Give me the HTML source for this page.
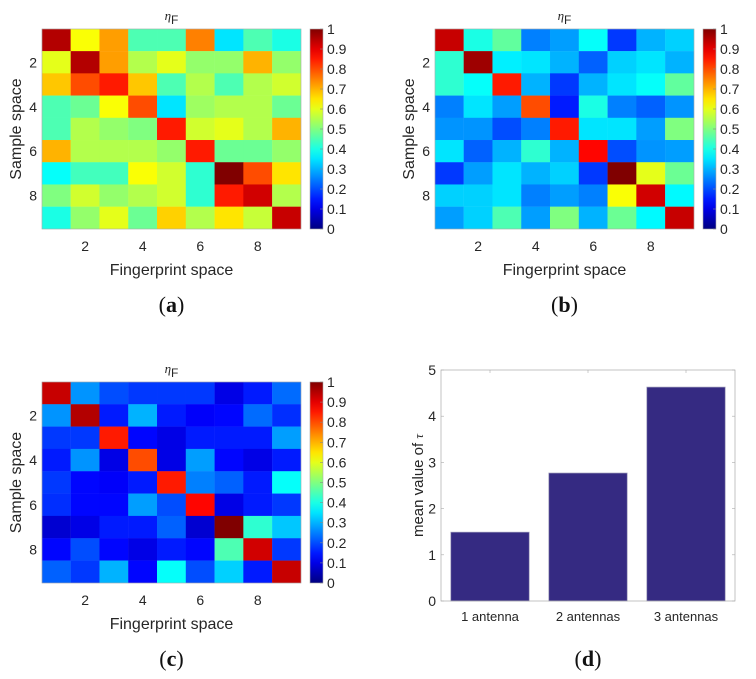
<!DOCTYPE html>
<html><head><meta charset="utf-8">
<style>
body{margin:0;background:#fff;}
svg{display:block;font-family:"Liberation Sans",sans-serif;}
</style></head>
<body>
<svg id="fig" width="756" height="679" viewBox="0 0 756 679" xmlns="http://www.w3.org/2000/svg"></svg>
<script>
const heatA = [
[0.95,0.62,0.72,0.45,0.45,0.75,0.35,0.45,0.40],
[0.60,0.95,0.72,0.55,0.60,0.52,0.52,0.70,0.52],
[0.68,0.80,0.85,0.68,0.45,0.55,0.45,0.55,0.58],
[0.45,0.48,0.62,0.80,0.35,0.53,0.55,0.55,0.48],
[0.45,0.55,0.52,0.50,0.85,0.58,0.60,0.55,0.70],
[0.70,0.55,0.55,0.55,0.52,0.85,0.48,0.48,0.52],
[0.38,0.44,0.44,0.62,0.58,0.42,1.00,0.80,0.65],
[0.50,0.58,0.52,0.55,0.58,0.42,0.85,0.92,0.55],
[0.40,0.52,0.60,0.48,0.67,0.55,0.65,0.57,0.93]];
const heatB = [
[0.93,0.40,0.47,0.25,0.28,0.38,0.18,0.30,0.33],
[0.42,0.97,0.36,0.35,0.30,0.22,0.33,0.35,0.30],
[0.42,0.38,0.85,0.30,0.18,0.30,0.35,0.38,0.47],
[0.25,0.35,0.28,0.80,0.15,0.40,0.25,0.22,0.27],
[0.27,0.27,0.20,0.25,0.85,0.35,0.35,0.28,0.50],
[0.35,0.22,0.30,0.42,0.30,0.87,0.20,0.27,0.28],
[0.18,0.28,0.35,0.30,0.33,0.18,1.00,0.60,0.48],
[0.33,0.33,0.35,0.25,0.28,0.25,0.62,0.92,0.37],
[0.28,0.33,0.45,0.28,0.50,0.30,0.48,0.37,0.93]];
const heatC = [
[0.93,0.27,0.20,0.18,0.18,0.18,0.10,0.15,0.23],
[0.27,0.95,0.15,0.30,0.15,0.12,0.13,0.23,0.17],
[0.18,0.18,0.85,0.13,0.10,0.15,0.15,0.15,0.28],
[0.15,0.27,0.10,0.80,0.10,0.28,0.13,0.10,0.15],
[0.18,0.13,0.12,0.15,0.85,0.25,0.22,0.15,0.38],
[0.17,0.13,0.13,0.28,0.20,0.87,0.10,0.15,0.18],
[0.08,0.10,0.15,0.15,0.22,0.08,1.00,0.42,0.32],
[0.13,0.20,0.13,0.10,0.15,0.13,0.45,0.92,0.18],
[0.22,0.18,0.30,0.13,0.38,0.20,0.33,0.15,0.93]];
const axisTicks = [2,4,6,8];
const cbarTicks = ["0","0.1","0.2","0.3","0.4","0.5","0.6","0.7","0.8","0.9","1"];
const barCategories = ["1 antenna","2 antennas","3 antennas"];
const barValues = [1.49,2.77,4.63];
const barYTicks = [0,1,2,3,4,5];

const NS="http://www.w3.org/2000/svg";
const svg=document.getElementById('fig');
function mk(tag,attrs,parent,text){const e=document.createElementNS(NS,tag);for(const k in attrs)e.setAttribute(k,attrs[k]);if(text!==undefined)e.textContent=text;(parent||svg).appendChild(e);return e;}
function cl(x){return Math.max(0,Math.min(1,x));}
function jet(v){const r=cl(1.5-Math.abs(4*v-3)),g=cl(1.5-Math.abs(4*v-2)),b=cl(1.5-Math.abs(4*v-1));return `rgb(${Math.round(r*255)},${Math.round(g*255)},${Math.round(b*255)})`;}
const TXT='#262626';

function heatmap(data,x0,y0,w,h,cbx,name,letter,letterY){
  const g=mk('g',{});
  
  
  const n=data.length, cw=w/n, ch=h/n;
  const xl0=c=>x0+(c-1)*cw, yt0=r=>y0+(r-1)*ch;
  data.forEach((row,ri)=>row.forEach((v,ci)=>{
    const rc=mk('rect',{x:xl0(ci+1)-0.1,y:yt0(ri+1)-0.1,width:cw+0.2,height:ch+0.2,fill:jet(v)},g);
    
    
  }));
  mk('rect',{x:x0,y:y0,width:w,height:h,fill:'none',stroke:'#aaa','stroke-width':0.6},g);
  axisTicks.forEach(t=>{
    const tx=mk('text',{x:x0+(t-0.5)*cw,y:y0+h+22,'text-anchor':'middle','font-size':14,fill:TXT},g,String(t));
    
    
    const ty=mk('text',{x:x0-5,y:y0+(t-0.5)*ch+5,'text-anchor':'end','font-size':14,fill:TXT},g,String(t));
    
    
  });
  const xl=mk('text',{x:x0+w/2,y:y0+h+46,'text-anchor':'middle','font-size':16,fill:TXT},g,'Fingerprint space');
  
  
  const yl=mk('text',{x:0,y:0,'text-anchor':'middle','font-size':16,fill:TXT,transform:`translate(${x0-21},${y0+h/2}) rotate(-90)`},g,'Sample space');
  
  
  const tt=mk('text',{x:x0+w/2,y:y0-9,'text-anchor':'middle','font-size':14,fill:TXT},g);
  
  
  mk('tspan',{'font-family':'Liberation Serif','font-style':'italic','font-size':13},tt,'η');
  mk('tspan',{dy:4,'font-size':12},tt,'F');
  const cb=mk('g',{},g);
  
  
  const defsId='grad'+name;
  const defs=mk('defs',{},cb);
  const lg=mk('linearGradient',{id:defsId,x1:0,y1:1,x2:0,y2:0},defs);
  for(let i=0;i<=20;i++){mk('stop',{offset:i/20,'stop-color':jet(i/20)},lg);}
  mk('rect',{x:cbx,y:y0,width:13,height:h,fill:`url(#${defsId})`,stroke:'#aaa','stroke-width':0.6},cb);
  cbarTicks.forEach((t,i)=>{
    const yy=y0+h-i*h/10;
    mk('line',{x1:cbx+13,x2:cbx+10,y1:yy,y2:yy,stroke:'#888','stroke-width':0.6},cb);
    const l=mk('text',{x:cbx+17,y:yy+5,'font-size':14,fill:TXT},cb,t);
    
    
  });
  const lt=mk('text',{x:x0+w/2,y:letterY,'text-anchor':'middle','font-size':22,'font-family':'Liberation Serif',fill:'#111'},g);
  
  
  mk('tspan',{},lt,'(');
  mk('tspan',{'font-weight':'bold'},lt,letter);
  mk('tspan',{},lt,')');
}
heatmap(heatA,42,29,259,200,310,'heatmap-a','a',312);
heatmap(heatB,435,29,259,200,703,'heatmap-b','b',312);
heatmap(heatC,42,382,259,201,310,'heatmap-c','c',666);

(function(){
  const g=mk('g',{});
  
  
  const X0=441,X1=735,Y0=601,Y1=370;
  const xs=v=>X0+(v-0.5)*(X1-X0)/3;
  const ys=v=>Y0-v*(Y0-Y1)/5;
  barValues.forEach((v,i)=>{
    const b=mk('rect',{x:xs(i+1-0.4),y:ys(v),width:xs(i+1.4)-xs(i+0.6),height:ys(0)-ys(v),fill:'#352a82',stroke:'#9a98b8','stroke-width':0.7},g);
    
    
    const l=mk('text',{x:xs(i+1),y:Y0+20,'text-anchor':'middle','font-size':13,fill:TXT},g,barCategories[i]);
    
    
    mk('line',{x1:xs(i+1),x2:xs(i+1),y1:Y1,y2:Y1+3,stroke:'#aaa','stroke-width':0.6},g);
  });
  mk('rect',{x:X0,y:Y1,width:X1-X0,height:Y0-Y1,fill:'none',stroke:'#aaa','stroke-width':0.7},g);
  barYTicks.forEach(t=>{
    mk('line',{x1:X0,x2:X0+3,y1:ys(t),y2:ys(t),stroke:'#aaa','stroke-width':0.6},g);
    mk('line',{x1:X1,x2:X1-3,y1:ys(t),y2:ys(t),stroke:'#aaa','stroke-width':0.6},g);
    const l=mk('text',{x:X0-5,y:ys(t)+5,'text-anchor':'end','font-size':14,fill:TXT},g,String(t));
    
    
  });
  const yl=mk('text',{x:0,y:0,'text-anchor':'middle','font-size':15,fill:TXT,transform:`translate(${423},${(Y0+Y1)/2}) rotate(-90)`},g);
  
  
  mk('tspan',{},yl,'mean value of ');
  mk('tspan',{'font-family':'Liberation Serif','font-style':'italic','font-size':13},yl,'τ');
  const lt=mk('text',{x:(X0+X1)/2,y:666,'text-anchor':'middle','font-size':22,'font-family':'Liberation Serif',fill:'#111'},g);
  
  
  mk('tspan',{},lt,'(');
  mk('tspan',{'font-weight':'bold'},lt,'d');
  mk('tspan',{},lt,')');
})();
</script>
</body></html>
